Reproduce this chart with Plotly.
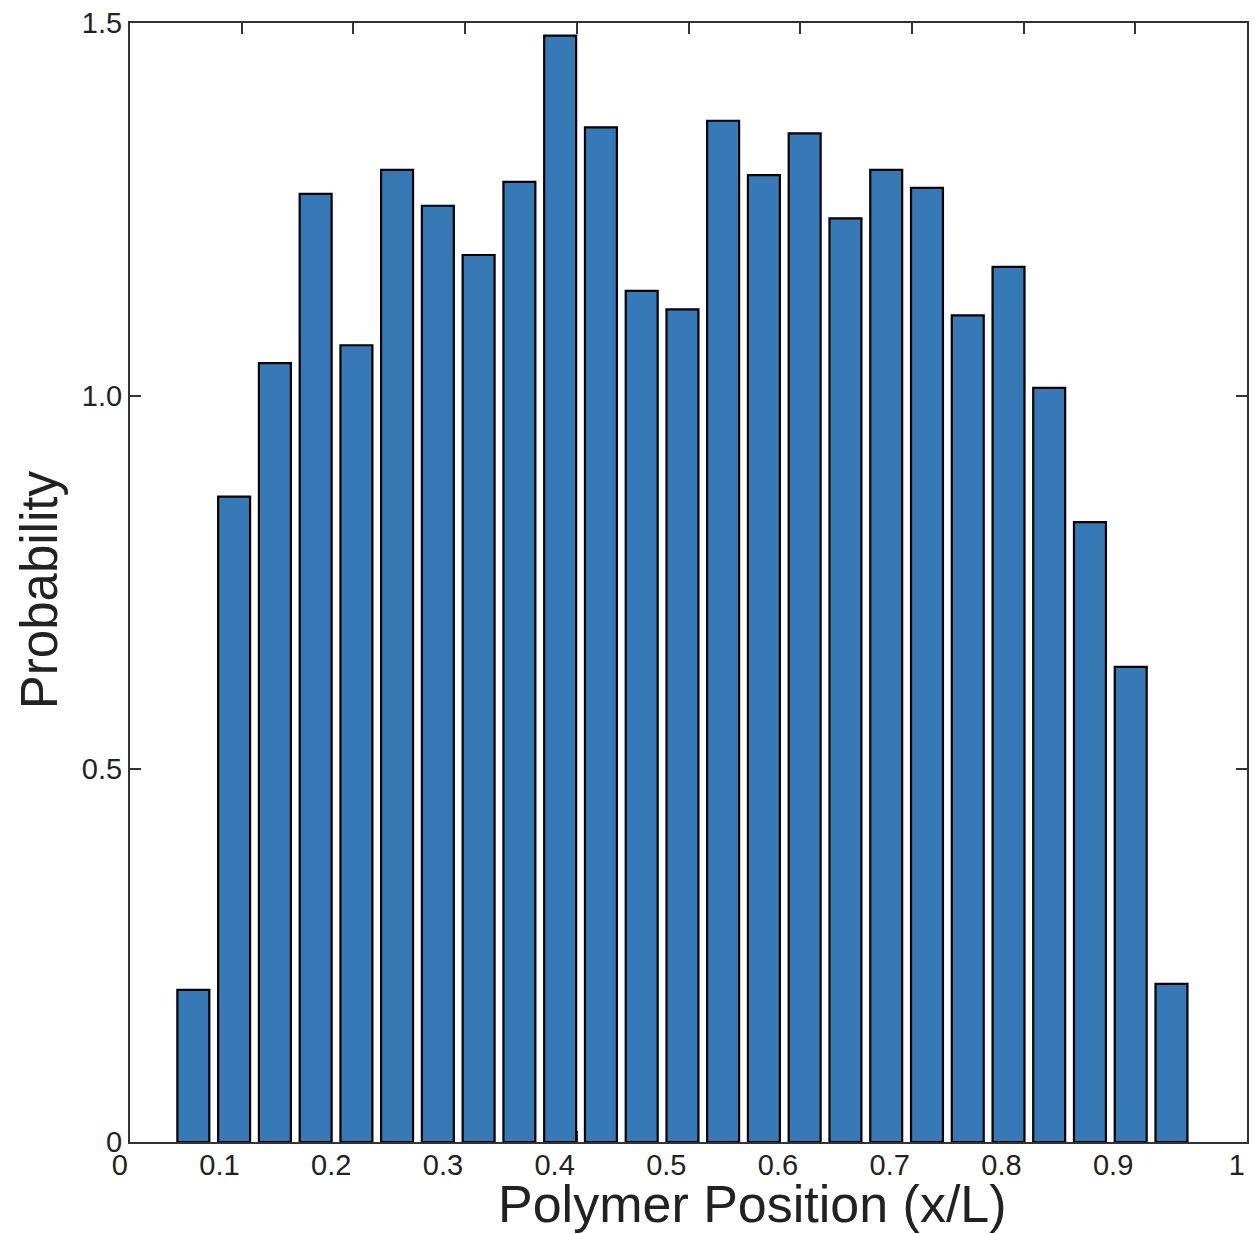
import plotly.graph_objects as go

# Histogram of monomer positions along the chain (normalised to a density)
bin_centers = [0.0567, 0.0932, 0.1297, 0.1662, 0.2027, 0.2391, 0.2756, 0.3121,
               0.3486, 0.3851, 0.4216, 0.4581, 0.4946, 0.5310, 0.5675, 0.6040,
               0.6405, 0.6770, 0.7135, 0.7500, 0.7865, 0.8229, 0.8594, 0.8959,
               0.9324]
probability = [0.204, 0.865, 1.044, 1.271, 1.068, 1.303, 1.255, 1.189,
               1.287, 1.483, 1.360, 1.141, 1.116, 1.369, 1.296, 1.352,
               1.238, 1.303, 1.279, 1.108, 1.173, 1.011, 0.831, 0.637,
               0.212]

x_tickvals = [0, 0.1, 0.2, 0.3, 0.4, 0.5, 0.6, 0.7, 0.8, 0.9, 1]
x_ticktext = ["0", "0.1", "0.2", "0.3", "0.4", "0.5", "0.6", "0.7", "0.8", "0.9", "1"]
y_tickvals = [0, 0.5, 1.0, 1.5]
y_ticktext = ["0", "0.5", "1.0", "1.5"]

FONT = "Liberation Sans, Arial, Helvetica, sans-serif"
INK = "#222222"
AXIS = "#333333"

fig = go.Figure(
    go.Bar(
        x=bin_centers,
        y=probability,
        width=0.0286,
        marker=dict(color="#357AB7", line=dict(color="#000000", width=2.2)),
        showlegend=False,
        hoverinfo="x+y",
    )
)

axis_common = dict(
    showgrid=False,
    zeroline=False,
    showline=True,
    linecolor=AXIS,
    linewidth=2,
    mirror="ticks",
    ticks="inside",
    ticklen=11,
    tickwidth=2,
    tickcolor=AXIS,
    tickfont=dict(family=FONT, size=29, color=INK),
    layer="below traces",
)

fig.update_xaxes(
    range=[0, 1],
    tickmode="array",
    tickvals=x_tickvals,
    ticktext=x_ticktext,
    ticklabelposition="outside left",
    ticklabelstandoff=-4,
    **axis_common,
)
fig.update_yaxes(
    range=[0, 1.5],
    tickmode="array",
    tickvals=y_tickvals,
    ticktext=y_ticktext,
    **axis_common,
)

fig.update_layout(
    width=1255,
    height=1234,
    margin=dict(l=130, r=6, t=23, b=92),
    paper_bgcolor="white",
    plot_bgcolor="white",
    font=dict(family=FONT, color=INK),
    annotations=[
        dict(
            text="Polymer Position (x/L)",
            xref="paper", yref="paper",
            x=0.5576, y=-0.0555,
            xanchor="center", yanchor="middle",
            showarrow=False,
            font=dict(family=FONT, size=52, color=INK),
        ),
        dict(
            text="Probability",
            xref="paper", yref="paper",
            x=-0.0804, y=0.4933,
            xanchor="center", yanchor="middle",
            textangle=-90,
            showarrow=False,
            font=dict(family=FONT, size=51, color=INK),
        ),
    ],
)

fig.write_html("out.html")
